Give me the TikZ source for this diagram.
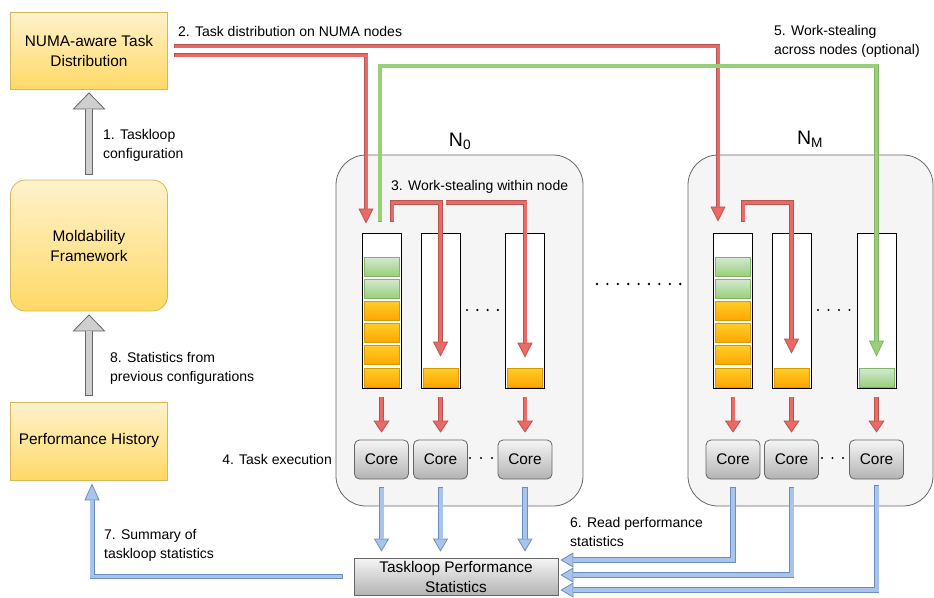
\documentclass[tikz,border=0pt]{standalone}
\usepackage{fontspec}
\setmainfont{Liberation Sans}
\usepackage{xcolor}
\usetikzlibrary{arrows.meta,calc,positioning}

\definecolor{ylwtop}{HTML}{FFF2CC}
\definecolor{ylwbot}{HTML}{FFD966}
\definecolor{ylwline}{HTML}{D6B656}
\definecolor{nodefill}{HTML}{F5F5F5}
\definecolor{nodeline}{HTML}{666666}
\definecolor{coretop}{HTML}{F5F5F5}
\definecolor{corebot}{HTML}{B3B3B3}
\definecolor{orgtop}{HTML}{FFCD28}
\definecolor{orgbot}{HTML}{FFA500}
\definecolor{orgline}{HTML}{D79B00}
\definecolor{grntop}{HTML}{D5E8D4}
\definecolor{grnbot}{HTML}{97D077}
\definecolor{grnline}{HTML}{82B366}
\definecolor{redfill}{HTML}{EA6B66}
\definecolor{redline}{HTML}{B85450}
\definecolor{bluefill}{HTML}{A9C4EB}
\definecolor{blueline}{HTML}{6C8EBF}
\definecolor{grayfill}{HTML}{CFCFCF}
\definecolor{grayline}{HTML}{666666}

\newcommand{\boxfont}{\fontsize{15.4}{20}\selectfont}
\newcommand{\lblfont}{\fontsize{14}{19}\selectfont}

% block arrow: border, fill, shaft, head width, head length, path
\newcommand{\flexarrow}[6]{%
	\draw[#1, line width={#3+1.6pt}, -{Triangle[width=#4, length=#5, line width=0.8pt, fill=#2]}] #6;
	\draw[#2, line width=#3, shorten >=#5, shorten <=0.8pt] #6;
}

\tikzset{%
	ybox/.style     = {draw=ylwline, line width=0.8pt, top color=ylwtop, bottom color=ylwbot, minimum width=157pt, align=center, font=\boxfont},
	numabox/.style  = {draw=nodeline, line width=0.8pt, fill=nodefill, rounded corners=30pt},
	queue/.style    = {draw=black, line width=1pt, fill=white, minimum width=39pt, minimum height=155pt},
	otask/.style    = {draw=orgline, line width=0.8pt, top color=orgtop, bottom color=orgbot, minimum width=35pt, minimum height=19pt, inner sep=0pt},
	gtask/.style    = {draw=grnline, line width=0.8pt, top color=grntop, bottom color=grnbot, minimum width=35pt, minimum height=19pt, inner sep=0pt},
	corebox/.style  = {draw=nodeline, line width=0.8pt, top color=coretop, bottom color=corebot, rounded corners=5pt, minimum width=54pt, minimum height=39pt, font=\boxfont},
	statbox/.style  = {draw=nodeline, line width=0.8pt, top color=coretop, bottom color=corebot, minimum width=204pt, minimum height=37pt, inner sep=0pt, align=center, font=\boxfont},
	lbl/.style      = {align=left, inner sep=0pt, font=\lblfont},
	nlbl/.style     = {inner sep=0pt, font=\fontsize{19.5}{22}\selectfont},
}

\begin{document}
\begin{tikzpicture}[x=1pt, y=-1pt]
	\useasboundingbox (0,0) rectangle (934,597);

	% left column
	\node[ybox, minimum height=77pt] (numa) at (89,50.5) {NUMA-aware Task\\Distribution};
	\node[ybox, rounded corners=15pt, minimum height=131pt] (mold) at (89,245.5) {Moldability\\Framework};
	\node[ybox, minimum height=78pt] (hist) at (89,441) {Performance History};

	% NUMA nodes
	\node[numabox, minimum width=247pt, minimum height=351pt] (n0) at (459.5,330.5) {};
	\node[numabox, minimum width=245pt, minimum height=351pt] (nm) at (810.5,330.5) {};
	\node[nlbl] (n0lbl) at (460,141) {N\textsubscript{0}};
	\node[nlbl] (nmlbl) at (810,139) {N\textsubscript{M}};

	% task queues
	\node[queue] (q0a) at (381.5,310.5) {};
	\node[queue] (q0b) at (440.5,310.5) {};
	\node[queue] (q0c) at (525,310.5) {};
	\node[queue] (qma) at (733,310.5) {};
	\node[queue] (qmb) at (791.5,310.5) {};
	\node[queue] (qmc) at (876.5,310.5) {};

	\foreach \i/\s in {1/gtask,2/gtask,3/otask,4/otask,5/otask,6/otask}{
		\node[\s] (t0a\i) at (381.5,{266.5+(\i-1)*22.2}) {};
		\node[\s] (tma\i) at (733,{266.5+(\i-1)*22.2}) {};
	}
	\node[otask] (t0b) at (440.5,377.5) {};
	\node[otask] (t0c) at (525,377.5) {};
	\node[otask] (tmb) at (791.5,377.5) {};
	\node[gtask] (tmc) at (876.5,377.5) {};

	% cores
	\node[corebox] (c0a) at (381.5,459.5) {Core};
	\node[corebox] (c0b) at (440.5,459.5) {Core};
	\node[corebox] (c0c) at (525,459.5) {Core};
	\node[corebox] (cma) at (733,459.5) {Core};
	\node[corebox] (cmb) at (791.5,459.5) {Core};
	\node[corebox] (cmc) at (876.5,459.5) {Core};

	\node[statbox] (stats) at (456,576.5) {Taskloop Performance\\Statistics};

	% dots
	\foreach \k in {0,...,8} {\fill (597+\k*10.4,284) circle (1.3pt);}
	\foreach \k in {0,...,3} {
		\fill (467+\k*10.3,310) circle (1.2pt);
		\fill (818+\k*10.5,310) circle (1.2pt);
	}
	\foreach \k in {0,...,2} {
		\fill (470+\k*11,458) circle (1.2pt);
		\fill (822+\k*10.5,458) circle (1.2pt);
	}

	% configuration arrows
	\flexarrow{grayline}{grayfill}{6.4pt}{33pt}{17pt}{([yshift=5pt]mold.north) -- ([yshift=-3pt]numa.south)}
	\flexarrow{grayline}{grayfill}{6.4pt}{33pt}{17pt}{([yshift=6pt]hist.north) -- ([yshift=-3pt]mold.south)}

	% task distribution
	\flexarrow{redline}{redfill}{3pt}{15pt}{15pt}{([shift={(6pt,4.5pt)}]numa.east) -| ([shift={(-15pt,11pt)}]qma.north)}
	\flexarrow{redline}{redfill}{3pt}{15pt}{15pt}{([shift={(6pt,-4.5pt)}]numa.east) -| ([shift={(-15.5pt,9pt)}]q0a.north)}

	% work-stealing within node
	\flexarrow{redline}{redfill}{3pt}{15pt}{15pt}{([shift={(10.5pt,11pt)}]q0a.north) -- ++(0,-19) -| ([yshift=11pt]t0b.north)}
	\flexarrow{redline}{redfill}{3pt}{15pt}{15pt}{([shift={(5pt,30pt)}]q0b.north) -| ([yshift=10pt]t0c.north)}
	\flexarrow{redline}{redfill}{3pt}{15pt}{15pt}{([shift={(10pt,11pt)}]qma.north) -- ++(0,-19) -| ([yshift=14pt]tmb.north)}

	% work-stealing across nodes
	\coordinate (gbend) at (876.5,66);
	\flexarrow{grnline}{grnbot}{3.2pt}{15pt}{16pt}{([shift={(-1.5pt,11pt)}]q0a.north) |- (gbend) -- ([yshift=11pt]tmc.north)}

	% task execution
	\foreach \q/\c in {q0a/c0a,q0b/c0b,q0c/c0c,qma/cma,qmb/cmb,qmc/cmc}{
		\flexarrow{redline}{redfill}{3pt}{16pt}{12pt}{([yshift=-8pt]\q.south) -- ([yshift=7pt]\c.north)}
	}

	% performance statistics
	\foreach \c in {c0a,c0b,c0c}{
		\flexarrow{blueline}{bluefill}{4pt}{15pt}{13pt}{([yshift=-8pt]\c.south) -- ([yshift=6pt]\c.south |- stats.north)}
	}
	\flexarrow{blueline}{bluefill}{4pt}{15pt}{13pt}{([yshift=-8pt]cma.south) |- ([shift={(2pt,16.5pt)}]stats.east)}
	\flexarrow{blueline}{bluefill}{4pt}{15pt}{13pt}{([yshift=-8pt]cmb.south) |- ([shift={(2pt,1.5pt)}]stats.east)}
	\flexarrow{blueline}{bluefill}{4pt}{15pt}{13pt}{([yshift=-6pt]cmc.south) |- ([shift={(2pt,-13.5pt)}]stats.east)}
	\flexarrow{blueline}{bluefill}{3.4pt}{15pt}{17pt}{([xshift=-11pt]stats.west) -| ([shift={(3pt,-3pt)}]hist.south)}

	% labels
	\node[lbl, anchor=west] (l1) at (103,145) {1. Taskloop\\configuration};
	\node[lbl, anchor=west] (l2) at (178,31) {2. Task distribution on NUMA nodes};
	\node[lbl, anchor=west] (l3) at (391,187) {3. Work-stealing within node};
	\node[lbl, anchor=east] (l4) at (332,459) {4. Task execution};
	\node[lbl, anchor=west] (l5) at (774,41.5) {5. Work-stealing\\across nodes (optional)};
	\node[lbl, anchor=west] (l6) at (570,532) {6. Read performance\\statistics};
	\node[lbl, anchor=west] (l7) at (104,545.5) {7. Summary of\\taskloop statistics};
	\node[lbl, anchor=west] (l8) at (110,368.5) {8. Statistics from\\previous configurations};
\end{tikzpicture}
\end{document}
